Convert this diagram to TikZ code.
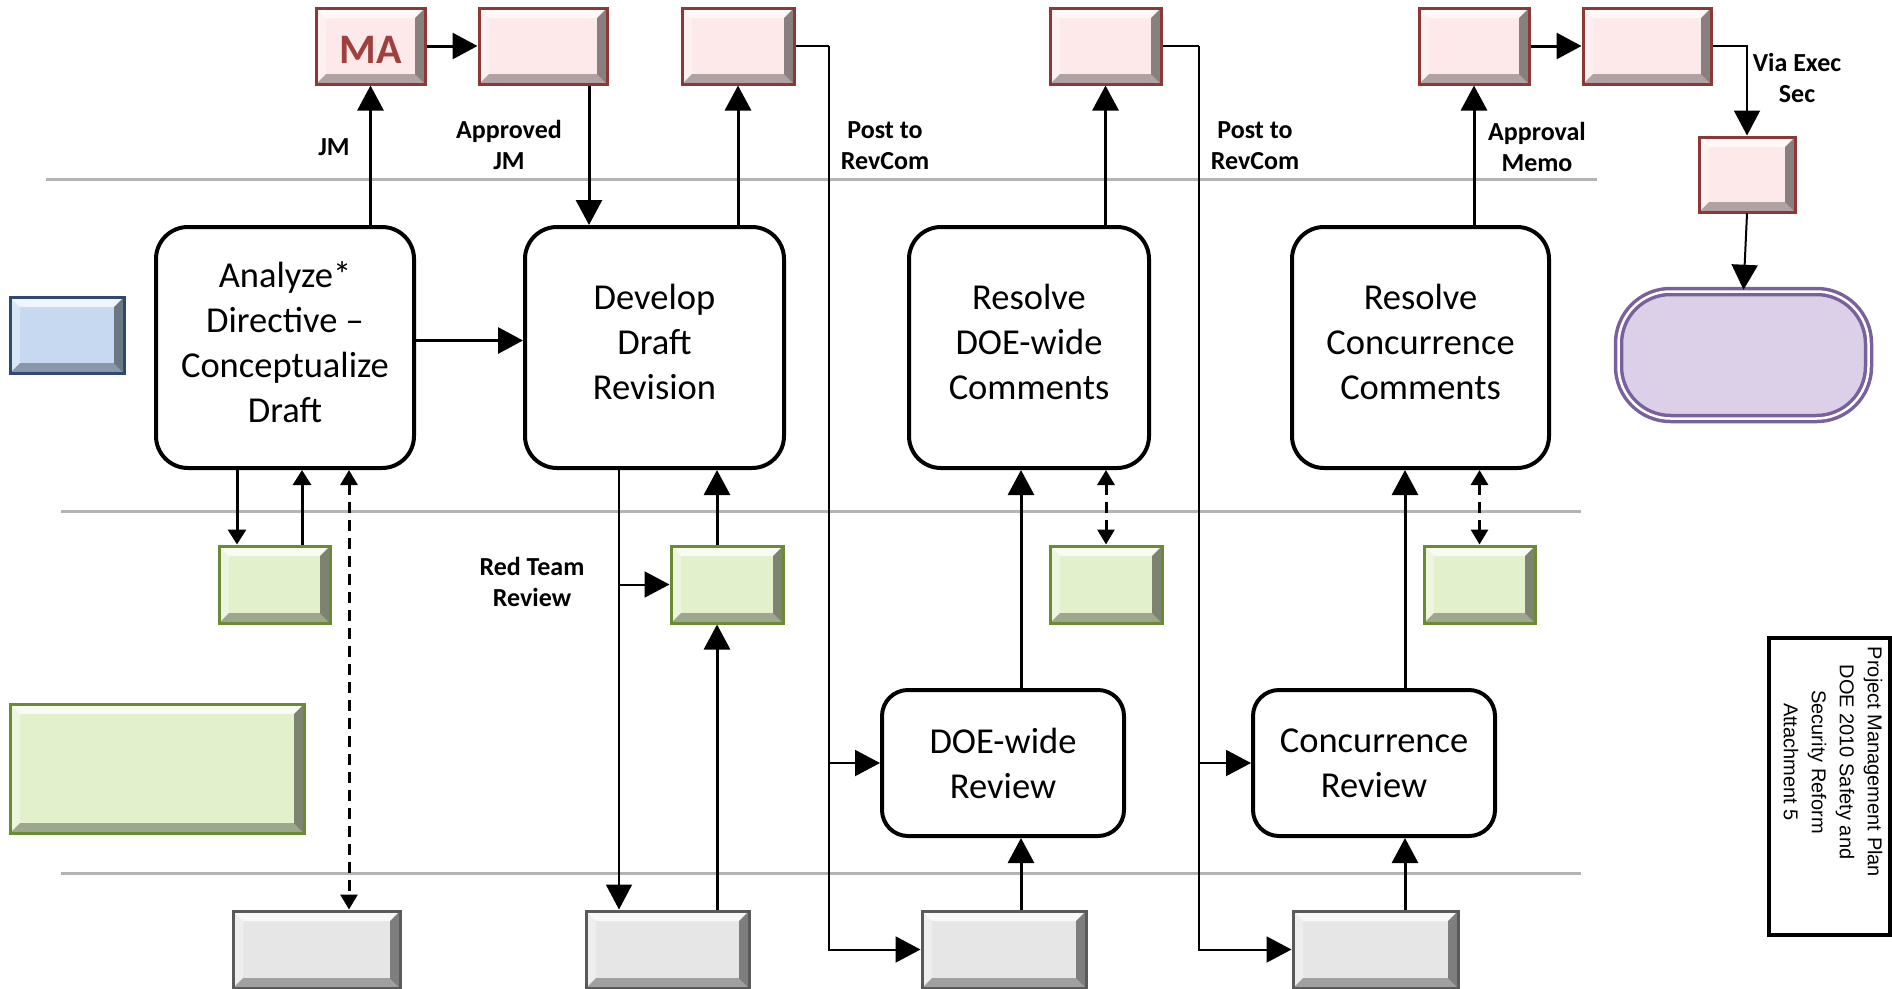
\documentclass[tikz,border=0pt]{standalone}
\usepackage{fontspec}
\setmainfont{Carlito}
\newfontfamily\arialfont{Liberation Sans}
\usetikzlibrary{arrows.meta}

\definecolor{redfill}{HTML}{FDE9E9}
\definecolor{redline}{HTML}{8C3836}
\definecolor{matext}{HTML}{A0403E}
\definecolor{bluefill}{HTML}{C6D9F1}
\definecolor{blueline}{HTML}{2E4A6E}
\definecolor{greenfill}{HTML}{E2F0CB}
\definecolor{greenline}{HTML}{6A8A34}
\definecolor{grayfill}{HTML}{E6E6E6}
\definecolor{grayline}{HTML}{5A5A5A}
\definecolor{pillfill}{HTML}{DCD0E8}
\definecolor{pillline}{HTML}{7A619C}
\definecolor{sepline}{HTML}{B4B4B4}

\tikzset{
  bevel/.style={path picture={
    \fill[white,opacity=.75] (path picture bounding box.north west) -- (path picture bounding box.north east)
      -- ([shift={(-10pt,-10pt)}]path picture bounding box.north east) -- ([shift={(10pt,-10pt)}]path picture bounding box.north west) -- cycle;
    \fill[white,opacity=.35] (path picture bounding box.north west) -- (path picture bounding box.south west)
      -- ([shift={(10pt,10pt)}]path picture bounding box.south west) -- ([shift={(10pt,-10pt)}]path picture bounding box.north west) -- cycle;
    \fill[black,opacity=.3] (path picture bounding box.south west) -- (path picture bounding box.south east)
      -- ([shift={(-10pt,10pt)}]path picture bounding box.south east) -- ([shift={(10pt,10pt)}]path picture bounding box.south west) -- cycle;
    \fill[black,opacity=.45] (path picture bounding box.north east) -- (path picture bounding box.south east)
      -- ([shift={(-10pt,10pt)}]path picture bounding box.south east) -- ([shift={(-10pt,-10pt)}]path picture bounding box.north east) -- cycle;
  }},
  tab/.style={draw=#1line, fill=#1fill, line width=3pt, bevel, inner sep=0pt},
  proc/.style={draw, line width=4pt, rounded corners=32pt, align=center, inner sep=0pt,
    font=\fontsize{36.5}{45}\selectfont},
  lbl/.style={align=center, font=\fontsize{26}{31}\selectfont\bfseries},
  arr/.style={line width=3pt, -{Triangle[length=25pt,width=26pt]}},
  arrs/.style={line width=3pt, -{Triangle[length=15pt,width=18pt]}},
  post/.style={line width=2pt},
  darr/.style={line width=3pt, dash pattern=on 11pt off 7pt,
    {Triangle[length=15pt,width=17pt]}-{Triangle[length=15pt,width=17pt]}},
  sep/.style={sepline, line width=3pt},
}

\begin{document}
\begin{tikzpicture}[x=1pt, y=-1pt]
  \useasboundingbox (0,0) rectangle (1892,988);

  % swimlane separators
  \draw[sep] (46,179) -- (1597,179);
  \draw[sep] (61,511) -- (1581,511);
  \draw[sep] (61,873) -- (1581,873);

  % top row
  \node[tab=red, minimum width=109pt, minimum height=76pt, text=matext, text height=35pt,
    font=\fontsize{42}{42}\selectfont\bfseries] (ma) at (370.5,46) {MA};
  \node[tab=red, minimum width=128pt, minimum height=76pt] (jmok) at (543,46) {};
  \node[tab=red, minimum width=112pt, minimum height=76pt] (rc1) at (738,46) {};
  \node[tab=red, minimum width=111pt, minimum height=76pt] (rc2) at (1105.5,46) {};
  \node[tab=red, minimum width=110pt, minimum height=76pt] (apv) at (1474,46) {};
  \node[tab=red, minimum width=128pt, minimum height=76pt] (ex) at (1647,46) {};
  \node[tab=red, minimum width=96pt, minimum height=75pt] (es) at (1747,174.5) {};
  \node[rectangle, rounded corners=52pt, draw=pillline, fill=pillfill, line width=3.5pt,
    double=white, double distance=2.5pt,
    minimum width=250pt, minimum height=127pt] (done) at (1743.5,355) {};

  % process boxes
  \node[tab=blue, minimum width=114pt, minimum height=76pt] (start) at (67,335) {};
  \node[proc, text depth=11pt, minimum width=258pt, minimum height=241pt] (analyze) at (285,347.5)
    {Analyze*\\Directive --\\Conceptualize\\Draft};
  \node[proc, text depth=12pt, minimum width=259pt, minimum height=241pt] (develop) at (654.5,347.5)
    {Develop\\Draft\\Revision};
  \node[proc, text depth=12pt, minimum width=240pt, minimum height=241pt] (resdoe) at (1029,347.5)
    {Resolve\\DOE-wide\\Comments};
  \node[proc, text depth=12pt, minimum width=257pt, minimum height=241pt] (rescon) at (1420.5,347.5)
    {Resolve\\Concurrence\\Comments};
  \node[proc, rounded corners=26pt, minimum width=242pt, minimum height=146pt] (doerev) at (1003,763)
    {DOE-wide\\Review};
  \node[proc, rounded corners=26pt, minimum width=242pt, minimum height=146pt] (conrev) at (1374,763)
    {Concurrence\\Review};

  % green row
  \node[tab=green, minimum width=111pt, minimum height=77pt] (g1) at (274.5,584.5) {};
  \node[tab=green, minimum width=112pt, minimum height=77pt] (g2) at (727,584.5) {};
  \node[tab=green, minimum width=112pt, minimum height=77pt] (g3) at (1106,584.5) {};
  \node[tab=green, minimum width=111pt, minimum height=77pt] (g4) at (1479.5,584.5) {};
  \node[tab=green, minimum width=294pt, minimum height=129pt] (glarge) at (157,768.5) {};

  % gray row
  \node[tab=gray, minimum width=167pt, minimum height=77pt] (k1) at (316.5,949.5) {};
  \node[tab=gray, minimum width=163pt, minimum height=77pt] (k2) at (667.5,949.5) {};
  \node[tab=gray, minimum width=164pt, minimum height=77pt] (k3) at (1004,949.5) {};
  \node[tab=gray, minimum width=165pt, minimum height=77pt] (k4) at (1375.5,949.5) {};

  % title block
  \node[draw, line width=4pt, minimum width=121pt, minimum height=297pt] (tbox) at (1829,786.5) {};
  \node[rotate=-90, align=center, font=\arialfont\fontsize{20}{28}\selectfont] (title) at (1833,762)
    {Project Management Plan\\DOE 2010 Safety and\\Security Reform\\Attachment 5};

  % helper x positions
  \coordinate (gl) at (237,0);
  \coordinate (gr) at (302,0);
  \coordinate (gd) at (349,0);
  \coordinate (ax) at (589,0);
  \coordinate (redx) at (619,0);
  \coordinate (gx) at (717,0);
  \coordinate (dx) at (1021,0);
  \coordinate (cx) at (1405,0);
  \coordinate (post1) at (829,46);
  \coordinate (post2) at (1199,46);

  % analyze
  \draw[arr] (analyze.north -| ma.south) -- (ma.south);
  \draw[arr] (ma.east) -- (jmok.west);
  \draw[arr] ([yshift=7pt]analyze.east) -- ([yshift=7pt]develop.west);
  \draw[arrs] (gl |- analyze.south) -- (gl |- g1.north);
  \draw[arrs] (gr |- g1.north) -- (gr |- analyze.south);
  \draw[darr] (gd |- analyze.south) -- (gd |- k1.north);

  % develop
  \draw[arr] (ax |- jmok.south) -- (ax |- develop.north);
  \draw[arr] (develop.north -| rc1.south) -- (rc1.south);
  \draw[arr, line width=2pt] (redx |- develop.south) -- (redx |- k2.north);
  \draw[arr, line width=2pt] (redx |- g2.west) -- (g2.west);
  \draw[arr] (gx |- k2.north) -- (gx |- g2.south);
  \draw[arr] (gx |- g2.north) -- (gx |- develop.south);

  % DOE-wide
  \draw[post] (rc1.east) -- (post1);
  \draw[arr, line width=2pt] (post1) |- (k3.west);
  \draw[arr, line width=2pt] (post1 |- doerev.west) -- (doerev.west);
  \draw[arr] (dx |- k3.north) -- (dx |- doerev.south);
  \draw[arr] (dx |- doerev.north) -- (dx |- resdoe.south);
  \draw[arr] (resdoe.north -| rc2.south) -- (rc2.south);
  \draw[darr] (resdoe.south -| g3.north) -- (g3.north);

  % concurrence
  \draw[post] (rc2.east) -- (post2);
  \draw[arr, line width=2pt] (post2) |- (k4.west);
  \draw[arr, line width=2pt] (post2 |- conrev.west) -- (conrev.west);
  \draw[arr] (cx |- k4.north) -- (cx |- conrev.south);
  \draw[arr] (cx |- conrev.north) -- (cx |- rescon.south);
  \draw[arr] (rescon.north -| apv.south) -- (apv.south);
  \draw[darr] (rescon.south -| g4.north) -- (g4.north);

  % approval
  \draw[arr] (apv.east) -- (ex.west);
  \draw[arr, line width=2pt] (ex.east) -| (es.north);
  \draw[arr, line width=2pt] (es.south) -- (done.north);

  % labels
  \node[lbl] (jm) at (334,147) {JM};
  \node[lbl] (approved) at (509,145) {Approved\\JM};
  \node[lbl] (post1lbl) at (885,146) {Post to\\RevCom};
  \node[lbl] (post2lbl) at (1255,146) {Post to\\RevCom};
  \node[lbl] (memo) at (1537,147) {Approval\\Memo};
  \node[lbl] (viaexec) at (1797,78) {Via Exec\\Sec};
  \node[lbl] (redteam) at (532,582) {Red Team\\Review};
\end{tikzpicture}
\end{document}
